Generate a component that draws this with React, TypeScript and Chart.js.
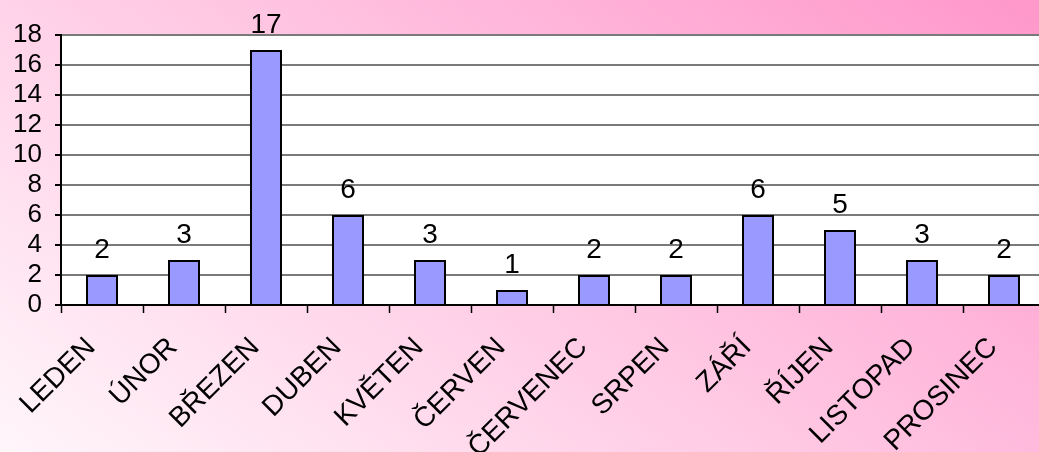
import React, { useEffect, useRef } from "react";
import { Chart, registerables } from "chart.js";

Chart.register(...registerables);

const months = ["LEDEN", "ÚNOR", "BŘEZEN", "DUBEN", "KVĚTEN", "ČERVEN", "ČERVENEC", "SRPEN", "ZÁŘÍ", "ŘÍJEN", "LISTOPAD", "PROSINEC"];
const counts = [2, 3, 17, 6, 3, 1, 2, 2, 6, 5, 3, 2];
const yTicks = [0, 2, 4, 6, 8, 10, 12, 14, 16, 18];

const FONT = "'Liberation Sans', Arial, sans-serif";

const bgPlugin = {
  id: "bgPlugin",
  beforeDraw(chart: any) {
    const { ctx, width, height, chartArea } = chart;
    ctx.save();
    const g = ctx.createLinearGradient(0, height, 567, height - 774);
    g.addColorStop(0, "#fff6fa");
    g.addColorStop(1, "#ff99cc");
    ctx.fillStyle = g;
    ctx.fillRect(0, 0, width, height);
    ctx.fillStyle = "#ffffff";
    ctx.fillRect(chartArea.left, chartArea.top, chartArea.right - chartArea.left, chartArea.bottom - chartArea.top);
    ctx.restore();
  },
};

const labelPlugin = {
  id: "labelPlugin",
  afterDatasetsDraw(chart: any) {
    const { ctx } = chart;
    const meta = chart.getDatasetMeta(0);
    ctx.save();
    ctx.fillStyle = "#000";
    ctx.font = `28px ${FONT}`;
    ctx.textAlign = "center";
    ctx.textBaseline = "alphabetic";
    meta.data.forEach((bar: any, i: number) => {
      ctx.fillText(String(counts[i]), bar.x, bar.y - 17);
    });
    ctx.restore();
  },
};

export default function App() {
  const ref = useRef<HTMLCanvasElement>(null);
  useEffect(() => {
    if (!ref.current) return;
    const chart = new Chart(ref.current, {
      type: "bar",
      data: {
        labels: months,
        datasets: [
          {
            data: counts,
            backgroundColor: "#9999ff",
            borderColor: "#000000",
            borderWidth: 2,
            categoryPercentage: 1,
            barPercentage: 0.39,
          },
        ],
      },
      options: {
        responsive: false,
        animation: false,
        devicePixelRatio: 1,
        layout: { padding: { top: 35, left: 0, right: 0, bottom: 0 } },
        plugins: { legend: { display: false }, tooltip: { enabled: false } },
        scales: {
          x: {
            offset: true,
            grid: { display: true, drawOnChartArea: false, offset: true, tickLength: 8, tickColor: "#000", tickWidth: 1.5 },
            border: { display: true, color: "#000", width: 2 },
            ticks: {
              autoSkip: false,
              minRotation: 45,
              maxRotation: 45,
              padding: 18,
              labelOffset: -11,
              color: "#000",
              font: { family: FONT, size: 28 },
            },
            afterFit(scale: any) {
              scale.height = 147;
              scale.paddingLeft = 0;
              scale.paddingRight = 0;
            },
          },
          y: {
            min: 0,
            max: 18,
            afterBuildTicks(scale: any) {
              scale.ticks = yTicks.map((v) => ({ value: v }));
            },
            grid: { color: "#7a7a7a", lineWidth: 2, tickLength: 6, tickColor: "#000" },
            border: { display: true, color: "#000", width: 2 },
            ticks: { autoSkip: false, padding: 13, color: "#000", font: { family: FONT, size: 26 } },
            afterFit(scale: any) {
              scale.width = 61;
            },
          },
        },
      },
      plugins: [bgPlugin, labelPlugin],
    });
    return () => chart.destroy();
  }, []);
  return (
    <div style={{ position: "fixed", left: 0, top: 0, width: 1039, height: 452, overflow: "hidden" }}>
      <canvas ref={ref} width={1045} height={452} style={{ width: 1045, height: 452, display: "block" }} />
    </div>
  );
}
